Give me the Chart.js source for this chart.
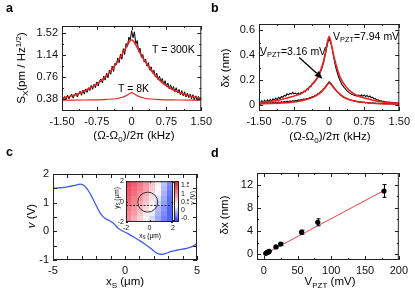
<!DOCTYPE html>
<html><head><meta charset="utf-8">
<script src="https://cdn.jsdelivr.net/npm/chart.js@4.4.0/dist/chart.umd.min.js"></script>
<style>
html,body{margin:0;padding:0;background:#fff;}
#root{position:relative;width:415px;height:298px;overflow:hidden;background:#fff;font-family:"Liberation Sans",Arial,Helvetica,sans-serif;}
canvas{position:absolute;}
.t{position:absolute;font-size:11px;color:#000;white-space:nowrap;line-height:1;z-index:5;}
.rot{transform:translate(-50%,-50%) rotate(-90deg);}
.ctr{transform:translate(-50%,-50%);}
.lft{transform:translateY(-50%);}
.t sub{font-size:70%;vertical-align:-0.35em;line-height:0;}
.t sup{font-size:70%;vertical-align:0.5em;line-height:0;}
.lbl{position:absolute;font-weight:bold;font-size:12.5px;line-height:1;z-index:5;}
.sm{font-size:6.5px;}
</style></head><body><div id="root"></div>
<script>
const FONT = '"Liberation Sans", Arial, Helvetica, sans-serif';

// ---------- shared frequency axis (kHz) for measured traces ----------
const freqX = [-1.50,-1.47,-1.44,-1.41,-1.38,-1.35,-1.32,-1.29,-1.26,-1.23,
-1.20,-1.17,-1.14,-1.11,-1.08,-1.05,-1.02,-0.99,-0.96,-0.93,
-0.90,-0.87,-0.84,-0.81,-0.78,-0.75,-0.72,-0.69,-0.66,-0.63,
-0.60,-0.57,-0.54,-0.51,-0.48,-0.45,-0.42,-0.39,-0.36,-0.33,
-0.30,-0.27,-0.24,-0.21,-0.18,-0.15,-0.12,-0.09,-0.06,-0.03,
0,
0.03,0.06,0.09,0.12,0.15,0.18,0.21,0.24,0.27,0.30,
0.33,0.36,0.39,0.42,0.45,0.48,0.51,0.54,0.57,0.60,
0.63,0.66,0.69,0.72,0.75,0.78,0.81,0.84,0.87,0.90,
0.93,0.96,0.99,1.02,1.05,1.08,1.11,1.14,1.17,1.20,
1.23,1.26,1.29,1.32,1.35,1.38,1.41,1.44,1.47,1.50];

// ---------- panel a ----------
const a300K = [0.42,0.37,0.43,0.38,0.45,0.39,0.44,0.47,0.40,0.46,
0.49,0.42,0.48,0.52,0.45,0.54,0.47,0.56,0.50,0.58,
0.53,0.62,0.55,0.64,0.58,0.68,0.61,0.70,0.73,0.66,
0.78,0.71,0.83,0.75,0.88,0.81,0.95,0.86,1.00,0.97,
1.09,1.01,1.16,1.07,1.25,1.15,1.34,1.29,1.45,1.40,
1.56,
1.44,1.54,1.33,1.39,1.20,1.26,1.10,1.15,1.02,1.07,
0.95,1.01,0.88,0.94,0.83,0.88,0.77,0.83,0.72,0.78,
0.68,0.74,0.64,0.70,0.60,0.66,0.56,0.63,0.54,0.60,
0.51,0.58,0.49,0.55,0.46,0.53,0.44,0.51,0.42,0.49,
0.41,0.47,0.39,0.46,0.37,0.44,0.36,0.43,0.36,0.42];
const aFit300X = [-1.5,-1.35,-1.2,-1.05,-0.9,-0.75,-0.6,-0.5,-0.4,-0.3,-0.2,-0.15,-0.1,-0.05,0,0.05,0.1,0.15,0.2,0.3,0.4,0.5,0.6,0.75,0.9,1.05,1.2,1.35,1.5];
const aFit300Y = [0.40,0.43,0.46,0.51,0.57,0.64,0.74,0.82,0.92,1.03,1.16,1.23,1.30,1.37,1.40,1.37,1.30,1.23,1.15,1.02,0.90,0.80,0.71,0.61,0.54,0.49,0.45,0.42,0.40];
const aFit8X = [-1.5,-1.0,-0.6,-0.4,-0.3,-0.2,-0.1,-0.05,0,0.05,0.1,0.2,0.3,0.4,0.6,1.0,1.5];
const aFit8Y = [0.365,0.37,0.375,0.385,0.395,0.415,0.45,0.475,0.495,0.475,0.45,0.415,0.395,0.385,0.375,0.37,0.365];
const aXTicks = [-1.5,-0.75,0,0.75,1.5], aXLabels = ['-1.50','-0.75','0','0.75','1.50'];
const aXMinor = [-1.125,-0.375,0.375,1.125];
const aYTicks = [0.38,0.76,1.14,1.52], aYLabels = ['0.38','0.76','1.14','1.52'];
const aYMinor = [0.57,0.95,1.33];

// ---------- panel b ----------
const bBig = [0.028,0.014,0.033,0.018,0.036,0.022,0.04,0.027,0.044,0.03,
0.048,0.036,0.054,0.042,0.06,0.05,0.066,0.06,0.076,0.07,
0.088,0.08,0.092,0.086,0.1,0.088,0.094,0.084,0.095,0.082,
0.1,0.094,0.11,0.104,0.125,0.12,0.146,0.146,0.172,0.172,
0.19,0.204,0.222,0.244,0.27,0.30,0.34,0.39,0.445,0.50,
0.53,
0.51,0.46,0.40,0.34,0.29,0.25,0.215,0.19,0.165,0.15,
0.135,0.122,0.11,0.10,0.092,0.085,0.08,0.076,0.072,0.07,
0.078,0.066,0.08,0.068,0.079,0.066,0.075,0.062,0.07,0.058,
0.06,0.048,0.05,0.038,0.04,0.03,0.033,0.025,0.029,0.021,
0.024,0.02,0.021,0.018,0.019,0.015,0.017,0.013,0.016,0.012];
const bSmall = [0.012,0.004,0.015,0.007,0.016,0.008,0.017,0.01,0.018,0.011,
0.02,0.012,0.022,0.014,0.023,0.016,0.025,0.018,0.027,0.02,
0.029,0.022,0.032,0.025,0.034,0.028,0.036,0.031,0.039,0.034,
0.042,0.038,0.047,0.042,0.052,0.048,0.058,0.056,0.066,0.066,
0.076,0.078,0.09,0.094,0.107,0.113,0.13,0.138,0.157,0.168,
0.185,
0.175,0.16,0.145,0.13,0.115,0.10,0.092,0.078,0.072,0.06,
0.058,0.048,0.048,0.04,0.04,0.034,0.034,0.028,0.03,0.024,
0.027,0.02,0.024,0.018,0.022,0.016,0.02,0.014,0.018,0.013,
0.016,0.012,0.014,0.01,0.013,0.01,0.012,0.009,0.011,0.008,
0.01,0.008,0.01,0.007,0.009,0.007,0.009,0.006,0.008,0.006];
const bFitBigX = [-1.5,-1.2,-1.0,-0.8,-0.6,-0.45,-0.35,-0.25,-0.18,-0.12,-0.08,-0.04,0,0.04,0.08,0.12,0.18,0.25,0.35,0.45,0.6,0.8,1.0,1.2,1.5];
const bFitBigY = [0.02,0.03,0.045,0.065,0.09,0.13,0.17,0.22,0.28,0.35,0.42,0.50,0.55,0.50,0.43,0.36,0.28,0.21,0.15,0.11,0.075,0.05,0.03,0.02,0.01];
const bFitSmallX = [-1.5,-1.0,-0.7,-0.5,-0.35,-0.25,-0.15,-0.08,0,0.08,0.15,0.25,0.35,0.5,0.7,1.0,1.5];
const bFitSmallY = [0.008,0.015,0.025,0.04,0.06,0.08,0.11,0.14,0.175,0.145,0.115,0.08,0.055,0.035,0.02,0.01,0.005];
const bYTicks = [0,0.2,0.4,0.6], bYLabels = ['0','0.2','0.4','0.6'];
const bYMinor = [0.1,0.3,0.5];
const bArrowFrom = [-0.64,0.38], bArrowTo = [-0.14,0.21];

// ---------- panel c ----------
const cX = [-5,-4.5,-4,-3.5,-3.1,-2.8,-2.5,-2.2,-2.0,-1.7,-1.4,-1.1,-0.8,-0.5,-0.2,0.2,0.6,1.0,1.4,1.8,2.2,2.5,2.8,3.2,3.6,4.0,4.4,4.8,5.0];
const cY = [1.50,1.52,1.55,1.60,1.65,1.58,1.38,1.10,0.90,0.62,0.46,0.38,0.28,0.12,0.02,-0.08,-0.20,-0.32,-0.45,-0.60,-0.76,-0.80,-0.78,-0.70,-0.66,-0.62,-0.58,-0.50,-0.42];
const cXTicks = [-5,0,5], cXLabels = ['-5','0','5'];
const cXMinor = [-4,-3,-2,-1,1,2,3,4];
const cYTicks = [-1,0,1,2], cYLabels = ['-1','0','1','2'];
const cYMinor = [-0.5,0.5,1.5];
// inset map (x_S, y_S in um), value v in V
const mapX = [-1.75,-1.25,-0.75,-0.25,0.25,0.75,1.25,1.75];
const mapY = [1.75,1.25,0.75,0.25,-0.25,-0.75,-1.25,-1.75];
const mapV = [
 [1.45,1.30,1.15,0.95,0.65,0.35,-0.05,-0.35],
 [1.40,1.25,1.10,0.90,0.60,0.30,-0.10,-0.40],
 [1.35,1.20,1.00,0.80,0.50,0.20,-0.15,-0.45],
 [1.30,1.10,0.95,0.70,0.45,0.10,-0.20,-0.50],
 [1.20,1.05,0.85,0.60,0.35,0.00,-0.25,-0.50],
 [1.10,0.95,0.75,0.50,0.25,-0.10,-0.30,-0.55],
 [1.05,0.90,0.65,0.40,0.15,-0.15,-0.35,-0.55],
 [1.00,0.80,0.55,0.30,0.05,-0.20,-0.40,-0.55]];
const insetTicks = [-2,0,2], insetLabels = ['-2','0','2'];
const cbTicks = [1.5,1,0.5,0,-0.5], cbLabels = ['1.5','1','0.5','0','-0.5'];
const cmapVals = [-0.76,0.25,1.77];
const cmapCols = [[35,60,250],[255,255,255],[235,25,50]];
const spotCenter = [-0.15,-0.05], spotRadius = 0.85, cutY = -0.35;

// ---------- panel d ----------
const dX = [3,5,7,8,18,25,56,80,178];
const dY = [0.15,0.3,0.4,0.5,1.25,1.75,3.8,5.5,10.9];
const dErr = [0.1,0.1,0.1,0.1,0.15,0.2,0.35,0.6,1.1];
const dFitX = [3,180], dFitY = [0.12,11.1];
const dXTicks = [0,50,100,150,200], dXLabels = ['0','50','100','150','200'];
const dXMinor = [25,75,125,175];
const dYTicks = [0,4,8,12], dYLabels = ['0','4','8','12'];
const dYMinor = [2,6,10];

// ---------- helpers ----------
const root = document.getElementById('root');
function pts(xs, ys){ return xs.map((x,i)=>({x:x,y:ys[i]})); }
function mkCanvas(g){
  const c = document.createElement('canvas');
  const w = (g.R-g.L) + g.W + (g.Wr||0) + 2*g.P;
  const h = (g.B-g.T) + g.H + 2*g.P;
  c.width = w; c.height = h;
  c.style.left = (g.L-g.W-g.P)+'px'; c.style.top = (g.T-g.P)+'px';
  c.style.width = w+'px'; c.style.height = h+'px';
  root.appendChild(c);
  return c;
}
function axis(min, max, ticks, labels, pos, size, fs, pad){
  return {
    type:'linear', position:pos, min:min, max:max, bounds:'data',
    grid:{display:false, drawTicks:false}, border:{display:false},
    ticks:{autoSkip:false, maxRotation:0, padding:pad, color:'#111',
      font:{family:FONT, size:fs}, callback:(v,i)=>labels[i]},
    afterBuildTicks:s=>{ s.ticks = ticks.map(v=>({value:v})); },
    afterFit:s=>{ if(pos==='bottom'||pos==='top') s.height=size; else s.width=size; }
  };
}
const framePlugin = {
  id:'frame',
  afterDatasetsDraw(chart, args, o){
    const ctx = chart.ctx, ca = chart.chartArea;
    const xs = chart.scales.x, ys = chart.scales.y;
    ctx.save();
    ctx.strokeStyle = o.color || '#222'; ctx.lineWidth = 1;
    ctx.beginPath();
    const xt = (vals,len)=>(vals||[]).forEach(v=>{
      const p = Math.round(xs.getPixelForValue(v))+0.5;
      ctx.moveTo(p, ca.bottom); ctx.lineTo(p, ca.bottom-len);
      if(o.mirror!==false){ ctx.moveTo(p, ca.top); ctx.lineTo(p, ca.top+len); }
    });
    const yt = (vals,len)=>(vals||[]).forEach(v=>{
      const p = Math.round(ys.getPixelForValue(v))+0.5;
      ctx.moveTo(ca.left, p); ctx.lineTo(ca.left+len, p);
      if(o.mirror!==false){ ctx.moveTo(ca.right, p); ctx.lineTo(ca.right-len, p); }
    });
    xt(o.xMajor, o.major||4); xt(o.xMinor, o.minor||2);
    yt(o.yMajor, o.major||4); yt(o.yMinor, o.minor||2);
    ctx.stroke();
    ctx.strokeRect(ca.left+0.5, ca.top+0.5, ca.right-ca.left-1, ca.bottom-ca.top-1);
    ctx.restore();
  }
};
function baseOpts(g, scales, frame){
  return {
    responsive:false, animation:false, devicePixelRatio:1, events:[],
    layout:{padding:g.P},
    plugins:{legend:{display:false}, tooltip:{enabled:false}, frame:frame},
    elements:{point:{radius:0}},
    scales:scales
  };
}
function line(xs, ys, color, width, extra){
  return Object.assign({data:pts(xs,ys), showLine:true, borderColor:color, borderWidth:width,
    pointRadius:0, fill:false, tension:0}, extra||{});
}
const RED = '#e8231f';

// ---------- chart a ----------
const gA = {L:62,T:26,R:204,B:111,W:44,H:30,P:12};
new Chart(mkCanvas(gA), {
  type:'scatter',
  data:{datasets:[
    line(aFit300X, aFit300Y, RED, 1.6, {cubicInterpolationMode:'monotone'}),
    line(aFit8X, aFit8Y, RED, 1.1, {cubicInterpolationMode:'monotone'}),
    line(freqX, a300K, '#000', 1)
  ]},
  options: baseOpts(gA, {
    x: axis(-1.5,1.5,aXTicks,aXLabels,'bottom',gA.H,11,4),
    y: axis(0.18,1.64,aYTicks,aYLabels,'left',gA.W,11,4)
  }, {xMajor:aXTicks,xMinor:aXMinor,yMajor:aYTicks,yMinor:aYMinor}),
  plugins:[framePlugin]
});

// ---------- chart b ----------
const arrowPlugin = {
  id:'arrow',
  afterDatasetsDraw(chart){
    const ctx = chart.ctx, xs = chart.scales.x, ys = chart.scales.y;
    const x1 = xs.getPixelForValue(bArrowFrom[0]), y1 = ys.getPixelForValue(bArrowFrom[1]);
    const x2 = xs.getPixelForValue(bArrowTo[0]), y2 = ys.getPixelForValue(bArrowTo[1]);
    const ang = Math.atan2(y2-y1, x2-x1), L = 8, Wd = 3.2;
    ctx.save(); ctx.strokeStyle='#000'; ctx.fillStyle='#000'; ctx.lineWidth=1.3;
    ctx.beginPath(); ctx.moveTo(x1,y1);
    ctx.lineTo(x2-L*Math.cos(ang), y2-L*Math.sin(ang)); ctx.stroke();
    ctx.beginPath(); ctx.moveTo(x2,y2);
    ctx.lineTo(x2-L*Math.cos(ang)+Wd*Math.sin(ang), y2-L*Math.sin(ang)-Wd*Math.cos(ang));
    ctx.lineTo(x2-L*Math.cos(ang)-Wd*Math.sin(ang), y2-L*Math.sin(ang)+Wd*Math.cos(ang));
    ctx.closePath(); ctx.fill(); ctx.restore();
  }
};
const gB = {L:259,T:24,R:402,B:111,W:44,H:30,P:12};
new Chart(mkCanvas(gB), {
  type:'scatter',
  data:{datasets:[
    line(bFitBigX, bFitBigY, RED, 1.6, {cubicInterpolationMode:'monotone'}),
    line(bFitSmallX, bFitSmallY, RED, 1.6, {cubicInterpolationMode:'monotone'}),
    line(freqX, bBig, '#000', 1.1),
    line(freqX, bSmall, '#000', 1.1)
  ]},
  options: baseOpts(gB, {
    x: axis(-1.5,1.5,aXTicks,aXLabels,'bottom',gB.H,11,4),
    y: axis(-0.05,0.65,bYTicks,bYLabels,'left',gB.W,11,4)
  }, {xMajor:aXTicks,xMinor:aXMinor,yMajor:bYTicks,yMinor:bYMinor}),
  plugins:[framePlugin, arrowPlugin]
});

// ---------- chart c ----------
const gC = {L:53,T:174,R:197,B:260,W:40,H:30,P:12};
new Chart(mkCanvas(gC), {
  type:'scatter',
  data:{datasets:[ line(cX, cY, '#3d5cf0', 1.3, {tension:0.35}) ]},
  options: baseOpts(gC, {
    x: axis(-5,5,cXTicks,cXLabels,'bottom',gC.H,11,4),
    y: axis(-1,2,cYTicks,cYLabels,'left',gC.W,11,4)
  }, {xMajor:cXTicks,xMinor:cXMinor,yMajor:cYTicks,yMinor:cYMinor, major:4, minor:4}),
  plugins:[framePlugin]
});

// ---------- inset map ----------
function cmap(v){
  if(v<=cmapVals[0]) return cmapCols[0];
  for(let i=1;i<cmapVals.length;i++){
    if(v<=cmapVals[i]){
      const f=(v-cmapVals[i-1])/(cmapVals[i]-cmapVals[i-1]);
      return cmapCols[i-1].map((c,k)=>Math.round(c+(cmapCols[i][k]-c)*f));
    }
  }
  return cmapCols[cmapCols.length-1];
}
const mapPlugin = {
  id:'heat',
  beforeDatasetsDraw(chart){
    const ctx = chart.ctx, xs = chart.scales.x, ys = chart.scales.y, cb = chart.scales.cb, ca = chart.chartArea;
    const hx = (mapX[1]-mapX[0])/2, hy = (mapY[0]-mapY[1])/2;
    ctx.save();
    mapV.forEach((row,r)=>row.forEach((v,c)=>{
      const x0 = Math.floor(xs.getPixelForValue(mapX[c]-hx)), x1 = Math.ceil(xs.getPixelForValue(mapX[c]+hx));
      const y0 = Math.floor(ys.getPixelForValue(mapY[r]+hy)), y1 = Math.ceil(ys.getPixelForValue(mapY[r]-hy));
      const col = cmap(v); ctx.fillStyle = 'rgb('+col.join(',')+')';
      ctx.fillRect(x0,y0,x1-x0,y1-y0);
    }));
    // colour bar
    const bx = ca.right+1, bw = 5;
    for(let py=Math.round(cb.top); py<Math.round(cb.bottom); py++){
      const col = cmap(cb.getValueForPixel(py+0.5)); ctx.fillStyle='rgb('+col.join(',')+')';
      ctx.fillRect(bx, py, bw, 1);
    }
    ctx.strokeStyle='#222'; ctx.lineWidth=1;
    ctx.strokeRect(bx+0.5, Math.round(cb.top)+0.5, bw-1, Math.round(cb.bottom-cb.top)-1);
    // spot and line cut
    const cx = xs.getPixelForValue(spotCenter[0]), cy = ys.getPixelForValue(spotCenter[1]);
    const rr = xs.getPixelForValue(spotCenter[0]+spotRadius)-cx;
    ctx.strokeStyle='#222'; ctx.lineWidth=0.9;
    ctx.beginPath(); ctx.arc(cx,cy,rr,0,Math.PI*2); ctx.stroke();
    const ly = Math.round(ys.getPixelForValue(cutY))+0.5;
    ctx.setLineDash([2,1.5]); ctx.beginPath();
    ctx.moveTo(xs.getPixelForValue(-2), ly); ctx.lineTo(xs.getPixelForValue(2), ly); ctx.stroke();
    ctx.restore();
  }
};
const gI = {L:126,T:175,R:173,B:222,W:12,H:12,P:6,Wr:16};
const cbAxis = axis(-0.76,1.77,cbTicks,cbLabels,'right',gI.Wr,7,8);
new Chart(mkCanvas(gI), {
  type:'scatter',
  data:{datasets:[]},
  options: baseOpts(gI, {
    x: axis(-2,2,insetTicks,insetLabels,'bottom',gI.H,7,2),
    y: axis(-2,2,insetTicks,insetLabels,'left',gI.W,7,2),
    cb: cbAxis
  }, {xMajor:insetTicks,xMinor:[-1,1],yMajor:insetTicks,yMinor:[-1,1], major:2, minor:1}),
  plugins:[mapPlugin, framePlugin]
});

// ---------- chart d ----------
const errPlugin = {
  id:'err',
  afterDatasetsDraw(chart){
    const ctx = chart.ctx, xs = chart.scales.x, ys = chart.scales.y;
    ctx.save(); ctx.strokeStyle='#000'; ctx.lineWidth=1; ctx.beginPath();
    dX.forEach((x,i)=>{
      const px = Math.round(xs.getPixelForValue(x))+0.5;
      const y1 = ys.getPixelForValue(dY[i]-dErr[i]), y2 = ys.getPixelForValue(dY[i]+dErr[i]);
      ctx.moveTo(px,y1); ctx.lineTo(px,y2);
      ctx.moveTo(px-2,y1); ctx.lineTo(px+2,y1);
      ctx.moveTo(px-2,y2); ctx.lineTo(px+2,y2);
    });
    ctx.stroke(); ctx.restore();
  }
};
const gD = {L:257,T:173,R:400,B:260,W:44,H:30,P:12};
new Chart(mkCanvas(gD), {
  type:'scatter',
  data:{datasets:[
    {data:pts(dX,dY), pointRadius:2.6, pointBackgroundColor:'#000', pointBorderColor:'#000', pointBorderWidth:0, showLine:false},
    line(dFitX, dFitY, '#f04040', 1)
  ]},
  options: baseOpts(gD, {
    x: axis(-10,200,dXTicks,dXLabels,'bottom',gD.H,11,4),
    y: axis(-1,14,dYTicks,dYLabels,'left',gD.W,11,4)
  }, {xMajor:dXTicks,xMinor:dXMinor,yMajor:dYTicks,yMinor:dYMinor}),
  plugins:[framePlugin, errPlugin]
});

// ---------- text ----------
function txt(html, x, y, cls, extra){
  const d = document.createElement('div');
  d.className = 't '+(cls||''); d.innerHTML = html;
  d.style.left = x+'px'; d.style.top = y+'px';
  if(extra) d.style.cssText += extra;
  root.appendChild(d); return d;
}
function letter(s, x, y){
  const d = document.createElement('div'); d.className='lbl'; d.textContent=s;
  d.style.left=x+'px'; d.style.top=y+'px'; root.appendChild(d);
}
letter('a',6,2); letter('b',211,2); letter('c',6,146); letter('d',211,147);
txt('S<sub>X</sub>(pm / Hz<sup>1/2</sup>)', 22, 68, 'rot', 'font-size:11.5px;');
txt('(Ω-Ω<sub>0</sub>)/2π (kHz)', 134, 136, 'ctr', 'font-size:11.5px;');
txt('T = 300K', 152, 49, 'lft', 'font-size:10.5px;');
txt('T = 8K', 118, 88, 'lft', 'font-size:10.5px;');
txt('δx (nm)', 226, 68, 'rot', 'font-size:11.5px;');
txt('(Ω-Ω<sub>0</sub>)/2π (kHz)', 330, 137, 'ctr', 'font-size:11.5px;');
txt('V<sub>PZT</sub>=7.94 mV', 333, 36, 'lft', 'font-size:10.5px;');
txt('V<sub>PZT</sub>=3.16 mV', 260, 51, 'lft', 'font-size:10.5px;');
txt('<i>v</i> (V)', 32, 216, 'rot', 'font-size:11.5px;');
txt('x<sub>S</sub> (μm)', 125, 282, 'ctr', 'font-size:11.5px;');
txt('y<sub>S</sub> (μm)', 117, 198, 'rot sm');
txt('x<sub>S</sub> (μm)', 150, 236, 'ctr sm');
txt('<i>v</i> (V)', 193, 198, 'rot sm');
txt('δx (nm)', 225, 215, 'rot', 'font-size:11.5px;');
txt('V<sub>PZT</sub> (mV)', 330, 282, 'ctr', 'font-size:11.5px;');
</script></body></html>
